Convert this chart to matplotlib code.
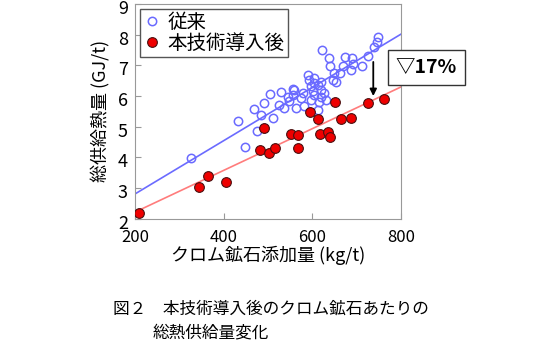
import matplotlib
matplotlib.use('Agg')
import matplotlib.pyplot as plt
import matplotlib.transforms as mtransforms

plt.rcParams['font.family'] = ['Noto Sans CJK JP', 'DejaVu Sans']

# 従来 (open blue circles)
conv_x = [326, 432, 448, 468, 475, 484, 491, 491, 511, 525, 504, 529, 547, 556,
          563, 545, 559, 556, 574, 581, 590, 592, 597, 601, 604, 604, 613, 619,
          619, 619, 615, 626, 631, 622, 638, 640, 647, 649, 653, 662, 669, 674,
          687, 689, 692, 712, 726, 739, 746, 748, 536, 613, 597, 579, 604]
conv_y = [3.99, 5.19, 4.34, 5.58, 4.86, 5.39, 5.78, 4.96, 5.29, 5.71, 6.07, 6.13,
          5.84, 6.23, 5.61, 5.97, 6.20, 6.04, 5.94, 5.68, 6.69, 6.53, 6.33, 6.17,
          6.59, 6.04, 6.36, 6.46, 6.20, 5.97, 5.81, 6.10, 5.87, 7.50, 7.24, 6.98,
          6.53, 6.75, 6.46, 6.75, 6.98, 7.27, 6.85, 7.24, 7.05, 6.98, 7.31, 7.60,
          7.76, 7.93, 5.61, 5.55, 5.87, 6.10, 6.43]

# 本技術導入後 (red filled circles)
new_x = [209, 344, 365, 405, 482, 491, 502, 516, 552, 568, 568, 595, 613, 617,
         635, 640, 651, 665, 687, 726, 762]
new_y = [2.20, 3.05, 3.40, 3.20, 4.24, 4.96, 4.15, 4.31, 4.77, 4.73, 4.31, 5.48,
         5.25, 4.77, 4.83, 4.67, 5.81, 5.25, 5.28, 5.78, 5.91]

# trend lines
line_x = [200, 800]
conv_line = [2.81, 8.02]
new_line = [2.22, 6.30]

# arrow (from, to)
arrow_x = 737
arrow_y = [7.11, 6.00]

fig = plt.figure(figsize=(5.35, 3.52), dpi=100)
ax = fig.add_axes([0.252, 0.378, 0.498, 0.611])

ax.plot(line_x, conv_line, color='#6b6bff', lw=1.2, zorder=1)
ax.plot(line_x, new_line, color='#ff7c7c', lw=1.2, zorder=1)
ax.plot(conv_x, conv_y, 'o', ms=6, mfc='none', mec='#6a6aff', mew=1.1,
        label='従来', zorder=2)
ax.plot(new_x, new_y, 'o', ms=7, mfc='#ee0000', mec='#4a1010', mew=0.8,
        label='本技術導入後', zorder=3)

ax.set_xlim(200, 800)
ax.set_ylim(2, 9)
ax.set_xticks([200, 400, 600, 800])
ax.set_yticks(range(2, 10))
ax.tick_params(axis='both', direction='in', length=4, color='#999999')
ax.tick_params(axis='y', labelsize=13, pad=5)
ax.tick_params(axis='x', labelsize=12, pad=7)
# y tick labels sit a little below their ticks in the original
shift = mtransforms.ScaledTranslation(0, -3 / 100, fig.dpi_scale_trans)
for lab in ax.get_yticklabels():
    lab.set_transform(lab.get_transform() + shift)
for sp in ax.spines.values():
    sp.set_color('#999999')

ax.set_xlabel('クロム鉱石添加量 (kg/t)', fontsize=13, labelpad=0)
ax.set_ylabel('総供給熱量 (GJ/t)', fontsize=13, labelpad=5)

leg = ax.legend(loc='upper left', fontsize=14, handletextpad=0.3,
                borderpad=0.15, labelspacing=0.0, handlelength=1.0,
                fancybox=False, framealpha=1, borderaxespad=0.25)
leg.get_frame().set_edgecolor('#555555')

ax.annotate('', xy=(arrow_x, arrow_y[1]), xytext=(arrow_x, arrow_y[0]),
            arrowprops=dict(arrowstyle='-|>', color='black', lw=1.3,
                            mutation_scale=10, shrinkA=0, shrinkB=0))

fig.text(0.797, 0.808, '▽17%', fontsize=14, fontweight='bold', ha='center',
         va='center',
         bbox=dict(boxstyle='square,pad=0.4', fc='white', ec='#333333', lw=1))

fig.text(0.211, 0.122, '図２　本技術導入後のクロム鉱石あたりの', fontsize=12,
         ha='left', va='center')
fig.text(0.286, 0.055, '総熱供給量変化', fontsize=12, ha='left', va='center')

fig.savefig('out.png', dpi=100)
